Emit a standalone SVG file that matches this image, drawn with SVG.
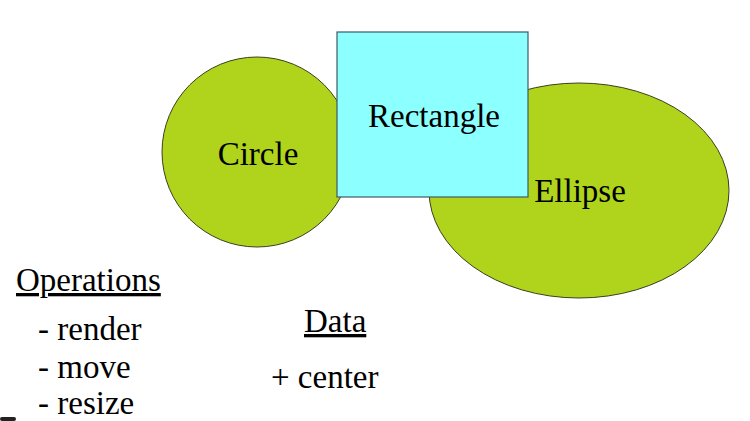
<svg xmlns="http://www.w3.org/2000/svg" width="750" height="421" viewBox="0 0 750 421">
<style>
.shape{fill:#AFD41B;stroke:#3a3f20;stroke-width:1}
.rect{fill:#8CFFFF;stroke:#3f5a66;stroke-width:1.2}
.t{font-family:'Liberation Serif','DejaVu Serif',serif;font-size:33px;fill:#000}
</style>
<rect width="750" height="421" fill="#fff"/>
<g id="circle"><circle class="shape" cx="257" cy="152" r="95"/><text class="t" x="258" y="165" text-anchor="middle">Circle</text></g>
<g id="ellipse"><ellipse class="shape" cx="579" cy="190.5" rx="150" ry="107.5"/><text class="t" x="580" y="202" text-anchor="middle">Ellipse</text></g>
<g id="rectangle"><rect class="rect" x="337" y="32" width="191" height="165"/><text class="t" x="434" y="127" text-anchor="middle">Rectangle</text></g>
<g id="connectors"></g>
<g id="operations">
<text class="t" x="16" y="291" text-decoration="underline">Operations</text>
<text class="t" x="38" y="340">- render</text>
<text class="t" x="38" y="378">- move</text>
<text class="t" x="38" y="414">- resize</text>
</g>
<g id="data">
<text class="t" x="304" y="332" text-decoration="underline">Data</text>
<text class="t" x="271" y="388">+ center</text>
</g>
<rect x="0" y="417" width="16" height="4" rx="2" fill="#222"/>
</svg>
